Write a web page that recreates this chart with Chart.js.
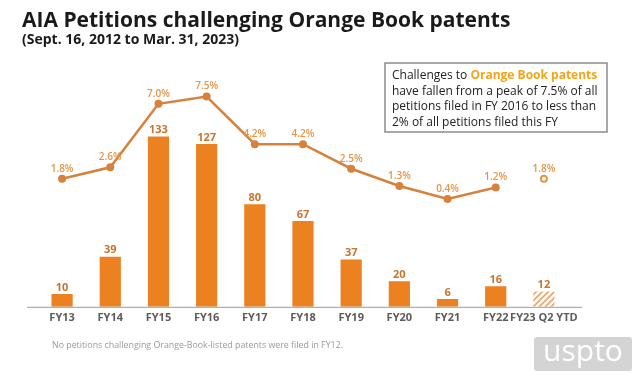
<!DOCTYPE html>
<html>
<head>
<meta charset="utf-8">
<script src="https://cdn.jsdelivr.net/npm/chart.js@4.4.1/dist/chart.umd.min.js"></script>
<style>
  html, body { margin: 0; padding: 0; background: #fff; }
  #wrap { position: relative; width: 640px; height: 378px; }
</style>
</head>
<body>
<div id="wrap"><canvas id="chart" width="640" height="378"></canvas></div>
<script>
// chart data
const fiscalYears = ['FY13', 'FY14', 'FY15', 'FY16', 'FY17', 'FY18', 'FY19', 'FY20', 'FY21', 'FY22', 'FY23 Q2 YTD'];
const petitionCounts = [10, 39, 133, 127, 80, 67, 37, 20, 6, 16, 12];
const shareOfAll = [1.8, 2.6, 7.0, 7.5, 4.2, 4.2, 2.5, 1.3, 0.4, 1.2, null];
const shareYtd = [null, null, null, null, null, null, null, null, null, null, 1.8];

const BAR = '#EC8121';
const LINE = '#D6823D';
const PCT_TEXT = '#E39548';
const BAR_TEXT = '#C9742E';
const FONT = '"Open Sans", "Noto Sans", sans-serif';

// hatched fill for the partial year
function hatch() {
  const c = document.createElement('canvas');
  c.width = 6; c.height = 6;
  const g = c.getContext('2d');
  g.fillStyle = '#fff';
  g.fillRect(0, 0, 6, 6);
  g.strokeStyle = '#EFA463';
  g.lineWidth = 1.6;
  g.beginPath();
  g.moveTo(0, 6); g.lineTo(6, 0);
  g.moveTo(-3, 3); g.lineTo(3, -3);
  g.moveTo(3, 9); g.lineTo(9, 3);
  g.stroke();
  return document.getElementById('chart').getContext('2d').createPattern(c, 'repeat');
}
const barColors = petitionCounts.map((v, i) => i === petitionCounts.length - 1 ? hatch() : BAR);

// titles, note box, labels, logo
const decorations = {
  id: 'decorations',
  afterDatasetsDraw(chart) {
    const ctx = chart.ctx;
    ctx.save();

    // value labels over bars
    const bars = chart.getDatasetMeta(0).data;
    ctx.textAlign = 'center';
    ctx.textBaseline = 'bottom';
    ctx.font = 'bold 11px ' + FONT;
    ctx.fillStyle = BAR_TEXT;
    bars.forEach((b, i) => ctx.fillText(String(petitionCounts[i]), b.x, b.y - 1));

    // percent labels over points
    ctx.font = '600 10px ' + FONT;
    ctx.fillStyle = PCT_TEXT;
    [[1, shareOfAll], [2, shareYtd]].forEach(([idx, arr]) => {
      chart.getDatasetMeta(idx).data.forEach((p, i) => {
        if (arr[i] == null) return;
        ctx.fillText(arr[i].toFixed(1) + '%', p.x, p.y - 5);
      });
    });

    // baseline
    ctx.strokeStyle = '#9a9a9a';
    ctx.lineWidth = 1;
    ctx.beginPath();
    ctx.moveTo(27, chart.chartArea.bottom + 0.5);
    ctx.lineTo(582, chart.chartArea.bottom + 0.5);
    ctx.stroke();

    // title
    ctx.textAlign = 'left';
    ctx.textBaseline = 'alphabetic';
    ctx.fillStyle = '#1a1a1a';
    ctx.font = 'bold 21px ' + FONT;
    ctx.fillText('AIA Petitions challenging Orange Book patents', 22, 27);
    ctx.font = 'bold 14px ' + FONT;
    ctx.fillText('(Sept. 16, 2012 to Mar. 31, 2023)', 22, 44, 232);

    // note box
    ctx.fillStyle = '#fff';
    ctx.fillRect(385, 63, 222, 69);
    ctx.strokeStyle = '#8c8c8c';
    ctx.lineWidth = 1.5;
    ctx.strokeRect(385, 63, 222, 69);
    ctx.font = '12px ' + FONT;
    ctx.textBaseline = 'middle';
    ctx.fillStyle = '#222';
    const lead = 'Challenges to ';
    ctx.fillText(lead, 392, 76);
    const w = ctx.measureText(lead).width;
    ctx.font = 'bold 12px ' + FONT;
    ctx.fillStyle = '#F2A516';
    ctx.fillText('Orange Book patents', 392 + w, 76);
    ctx.font = '12px ' + FONT;
    ctx.fillStyle = '#222';
    ctx.fillText('have fallen from a peak of 7.5% of all', 392, 91.5, 210);
    ctx.fillText('petitions filed in FY 2016 to less than', 392, 107, 210);
    ctx.fillText('2% of all petitions filed this FY', 392, 122.5, 210);

    // footnote
    ctx.font = '9px ' + FONT;
    ctx.fillStyle = '#9a9a9a';
    ctx.fillText('No petitions challenging Orange-Book-listed patents were filed in FY12.', 52, 345, 291);

    // logo
    ctx.fillStyle = '#d4d4d4';
    ctx.beginPath();
    ctx.roundRect(534, 337, 98, 34, 3);
    ctx.fill();
    ctx.fillStyle = '#fff';
    ctx.font = '30px ' + FONT;
    ctx.textAlign = 'center';
    ctx.fillText('uspto', 583, 352);

    ctx.restore();
  }
};

new Chart(document.getElementById('chart'), {
  type: 'bar',
  data: {
    labels: fiscalYears,
    datasets: [
      {
        type: 'bar',
        data: petitionCounts,
        backgroundColor: barColors,
        borderWidth: 0,
        barPercentage: 0.88,
        categoryPercentage: 0.5,
        yAxisID: 'y',
        order: 2
      },
      {
        type: 'line',
        data: shareOfAll,
        borderColor: LINE,
        backgroundColor: LINE,
        borderWidth: 2.5,
        pointRadius: 4,
        pointBackgroundColor: LINE,
        pointBorderWidth: 0,
        spanGaps: false,
        tension: 0,
        yAxisID: 'y1',
        order: 1
      },
      {
        type: 'line',
        data: shareYtd,
        borderColor: '#E39548',
        showLine: false,
        pointRadius: 3,
        pointBorderWidth: 2,
        pointBackgroundColor: '#fff',
        yAxisID: 'y1',
        order: 1
      }
    ]
  },
  options: {
    responsive: false,
    animation: false,
    layout: { padding: { left: 38, right: 72, top: 80, bottom: 50 } },
    plugins: { legend: { display: false }, tooltip: { enabled: false } },
    scales: {
      x: {
        grid: { display: false, drawTicks: false },
        border: { display: false },
        ticks: {
          color: '#5c5c5c',
          padding: 4,
          autoSkip: false,
          maxRotation: 0,
          font: { family: FONT, size: 11, weight: 'bold' }
        }
      },
      y: { display: false, min: 0, max: 177 },
      y1: { display: false, min: -7.07, max: 8.65 }
    }
  },
  plugins: [decorations]
});
</script>
</body>
</html>
